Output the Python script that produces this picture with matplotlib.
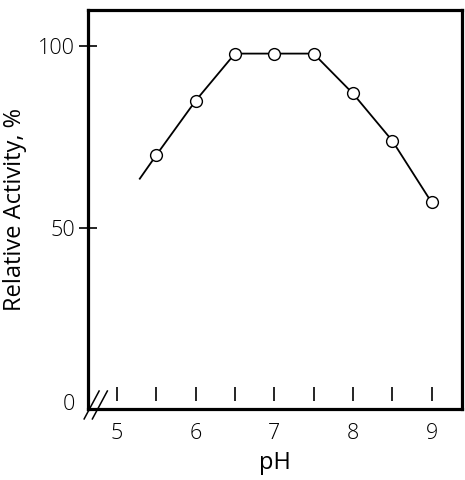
import numpy as np
import matplotlib.pyplot as plt

# measured points (pH, relative activity %)
ph = [5.5, 6.0, 6.5, 7.0, 7.5, 8.0, 8.5, 9.0]
activity = [70, 85, 98, 98, 98, 87, 74, 57]
# curve continues a little below the first measurement
line_start = (5.29, 63.5)

minor_ticks = [5.0, 5.5, 6.0, 6.5, 7.0, 7.5, 8.0, 8.5, 9.0]
x_labels = [5, 6, 7, 8, 9]
y_ticks = [50, 100]

plt.rcParams['font.family'] = ['Open Sans', 'DejaVu Sans']
plt.rcParams['font.weight'] = 'light'

fig = plt.figure(figsize=(4.65, 4.8), dpi=100)
ax = fig.add_axes([0.189, 0.148, 0.805, 0.831])

ax.plot([line_start[0]] + ph, [line_start[1]] + activity, color='black', lw=1.3, zorder=2)
ax.plot(ph, activity, 'o', ms=8.5, mfc='white', mec='black', mew=1.0, zorder=3)

# floating tick marks inside the plot
ax.vlines(minor_ticks, 2.3, 6.0, color='black', lw=1.2)

ax.set_xlim(4.63, 9.39)
ax.set_ylim(0, 110)

ax.set_xticks(x_labels)
ax.tick_params(axis='x', length=0, pad=10, labelsize=15.5)
ax.set_yticks(y_ticks)
ax.tick_params(axis='y', direction='inout', length=13, width=1.2, labelsize=15.5, pad=3)
ax.text(-0.035, 0.01, '0', transform=ax.transAxes, ha='right', va='center', fontsize=15.5)

for s in ax.spines.values():
    s.set_linewidth(2.3)

# axis break marks at the lower left corner
for dx in (0.0, 0.022):
    ax.plot([-0.01 + dx, 0.03 + dx], [-0.025, 0.045], transform=ax.transAxes,
            color='black', lw=1.1, clip_on=False)

ax.set_xlabel('pH', fontsize=17, labelpad=5)
ax.set_ylabel('Relative Activity, %', fontsize=17, labelpad=8)

fig.savefig('out.png', dpi=100)
